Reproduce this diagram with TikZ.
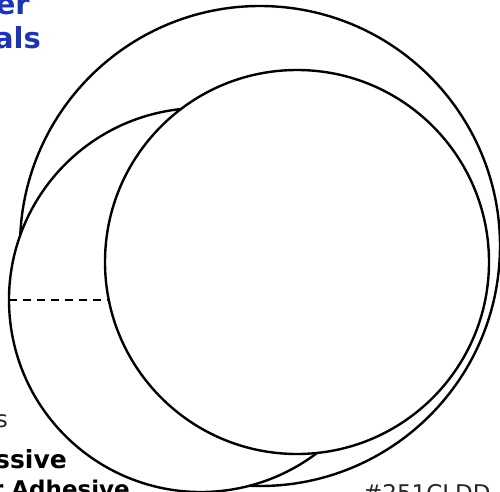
\documentclass[tikz,border=0pt]{standalone}
\usepackage{fontspec}
\setmainfont{DejaVu Sans}
\usepackage{xcolor}
\usetikzlibrary{calc}
\definecolor{labelblue}{RGB}{30,52,178}

\begin{document}
\begin{tikzpicture}[
  x=1pt, y=1pt,
  rim/.style={draw, line width=2.4pt},
  guide/.style={draw, line width=2.1pt, dash pattern=on 8pt off 6pt},
  head/.style={font=\fontsize{29}{34}\selectfont\bfseries, text=labelblue, inner sep=0pt, anchor=base east},
  tag/.style={font=\fontsize{25}{30}\selectfont\bfseries, inner sep=0pt, anchor=base east},
  note/.style={font=\fontsize{23}{28}\selectfont, text=black!85, inner sep=0pt},
]
\useasboundingbox (0,0) rectangle (500,491);
\clip (0,0) rectangle (500,491);
\coordinate (big) at (260,245);
\coordinate (lft) at (201,191);
\coordinate (inr) at (297,229);
\draw[rim] (big) ++(177.4:240) arc[start angle=177.4, end angle=-92.5, radius=240];
\draw[rim] (lft) ++(96:192) arc[start angle=96, end angle=307.2, radius=192];
\draw[rim] (inr) circle[radius=192];
\coordinate (dashL) at ($(lft)+(-192,0)$);
\coordinate (dashR) at (108.8,191);
\draw[guide] (dashL) -- (dashR);
\node[head] (hd1) at (30,476) {er};
\node[head] (hd2) at (41,442) {als};
\node[note, anchor=base east] (nt1) at (8,64) {s};
\node[tag] (tg1) at (67,23) {ssive};
\node[tag, font=\fontsize{23}{28}\selectfont\bfseries] (tg2) at (130,-6) {r Adhesive};
\node[note, anchor=base west] (code) at (363,-10) {\#251CLDD};
\end{tikzpicture}
\end{document}
